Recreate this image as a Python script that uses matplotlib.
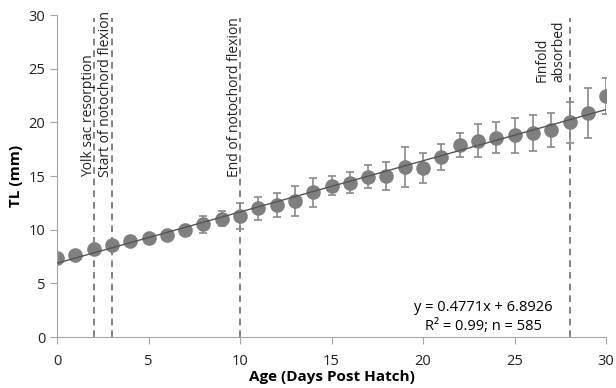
import matplotlib
matplotlib.use("Agg")
import matplotlib.pyplot as plt
import numpy as np

plt.rcParams["font.family"] = ["Open Sans", "DejaVu Sans"]

# mean total length per day post hatch, with SD
days = list(range(31))
tl_mean = [7.4, 7.7, 8.2, 8.6, 9.0, 9.25, 9.5, 9.95, 10.5, 11.05, 11.3,
           12.0, 12.3, 12.7, 13.5, 14.1, 14.4, 14.95, 15.0, 15.85, 15.75,
           16.8, 17.9, 18.3, 18.6, 18.8, 19.0, 19.3, 20.0, 20.9, 22.45]
tl_sd = [0.15, 0.15, 0.2, 0.2, 0.2, 0.2, 0.25, 0.3, 0.8, 0.7, 1.2,
         1.1, 1.1, 1.4, 1.35, 0.9, 1.0, 1.05, 1.3, 1.85, 1.4,
         1.2, 1.1, 1.55, 1.4, 1.6, 1.7, 1.6, 1.9, 2.3, 1.65]

slope, intercept = 0.4771, 6.8926

# developmental milestones: (day, label, label x, label y)
events_day = [2, 3, 10, 28]
events_label = ["Yolk sac resorption", "Start of notochord flexion",
                "End of notochord flexion", "Finfold\nabsorbed"]
label_x = [1.75, 2.65, 9.7, 26.95]
label_y = [14.9, 14.9, 14.9, 23.8]

fig = plt.figure(figsize=(6.16, 3.88), dpi=100)
ax = fig.add_axes([0.0925, 0.131, 0.8915, 0.830])

grey = "#7f7f7f"
for d in events_day:
    ax.plot([d, d], [0, 29.7], color="#6e6e6e", lw=1.2, ls=(0, (4, 3)), zorder=1)
for lx, ly, lab in zip(label_x, label_y, events_label):
    ax.text(lx, ly, lab, rotation=90, ha="center", va="bottom",
            multialignment="left", fontsize=10, color="#222222")

xs = np.array([0, 30])
ax.plot(xs, slope * xs + intercept, color="#555555", lw=1.0, zorder=3)
ax.errorbar(days, tl_mean, yerr=tl_sd, fmt="o", color=grey, ms=9.5,
            ecolor="#8a8a8a", elinewidth=1.2, capsize=3, capthick=1.2, zorder=2)

ax.text(23.3, 2.8, f"y = {slope}x + {intercept}", ha="center", va="center", fontsize=10.5)
ax.text(23.3, 0.95, "R² = 0.99; n = 585", ha="center", va="center", fontsize=10.5)

ax.set_xlim(0, 30)
ax.set_ylim(0, 30)
ax.set_xticks(range(0, 31, 5))
ax.set_yticks(range(0, 31, 5))
for s in ["top", "right"]:
    ax.spines[s].set_visible(False)
for s in ["left", "bottom"]:
    ax.spines[s].set_color("#a6a6a6")
ax.tick_params(colors="#a6a6a6", labelcolor="#222222", labelsize=10.5, length=5, direction="out")
ax.tick_params(axis="x", pad=7)
ax.set_xlabel("Age (Days Post Hatch)", fontweight="bold", fontsize=11, labelpad=1)
ax.set_ylabel("TL (mm)", fontweight="bold", fontsize=11, labelpad=4)

fig.savefig("out.png", dpi=100)
